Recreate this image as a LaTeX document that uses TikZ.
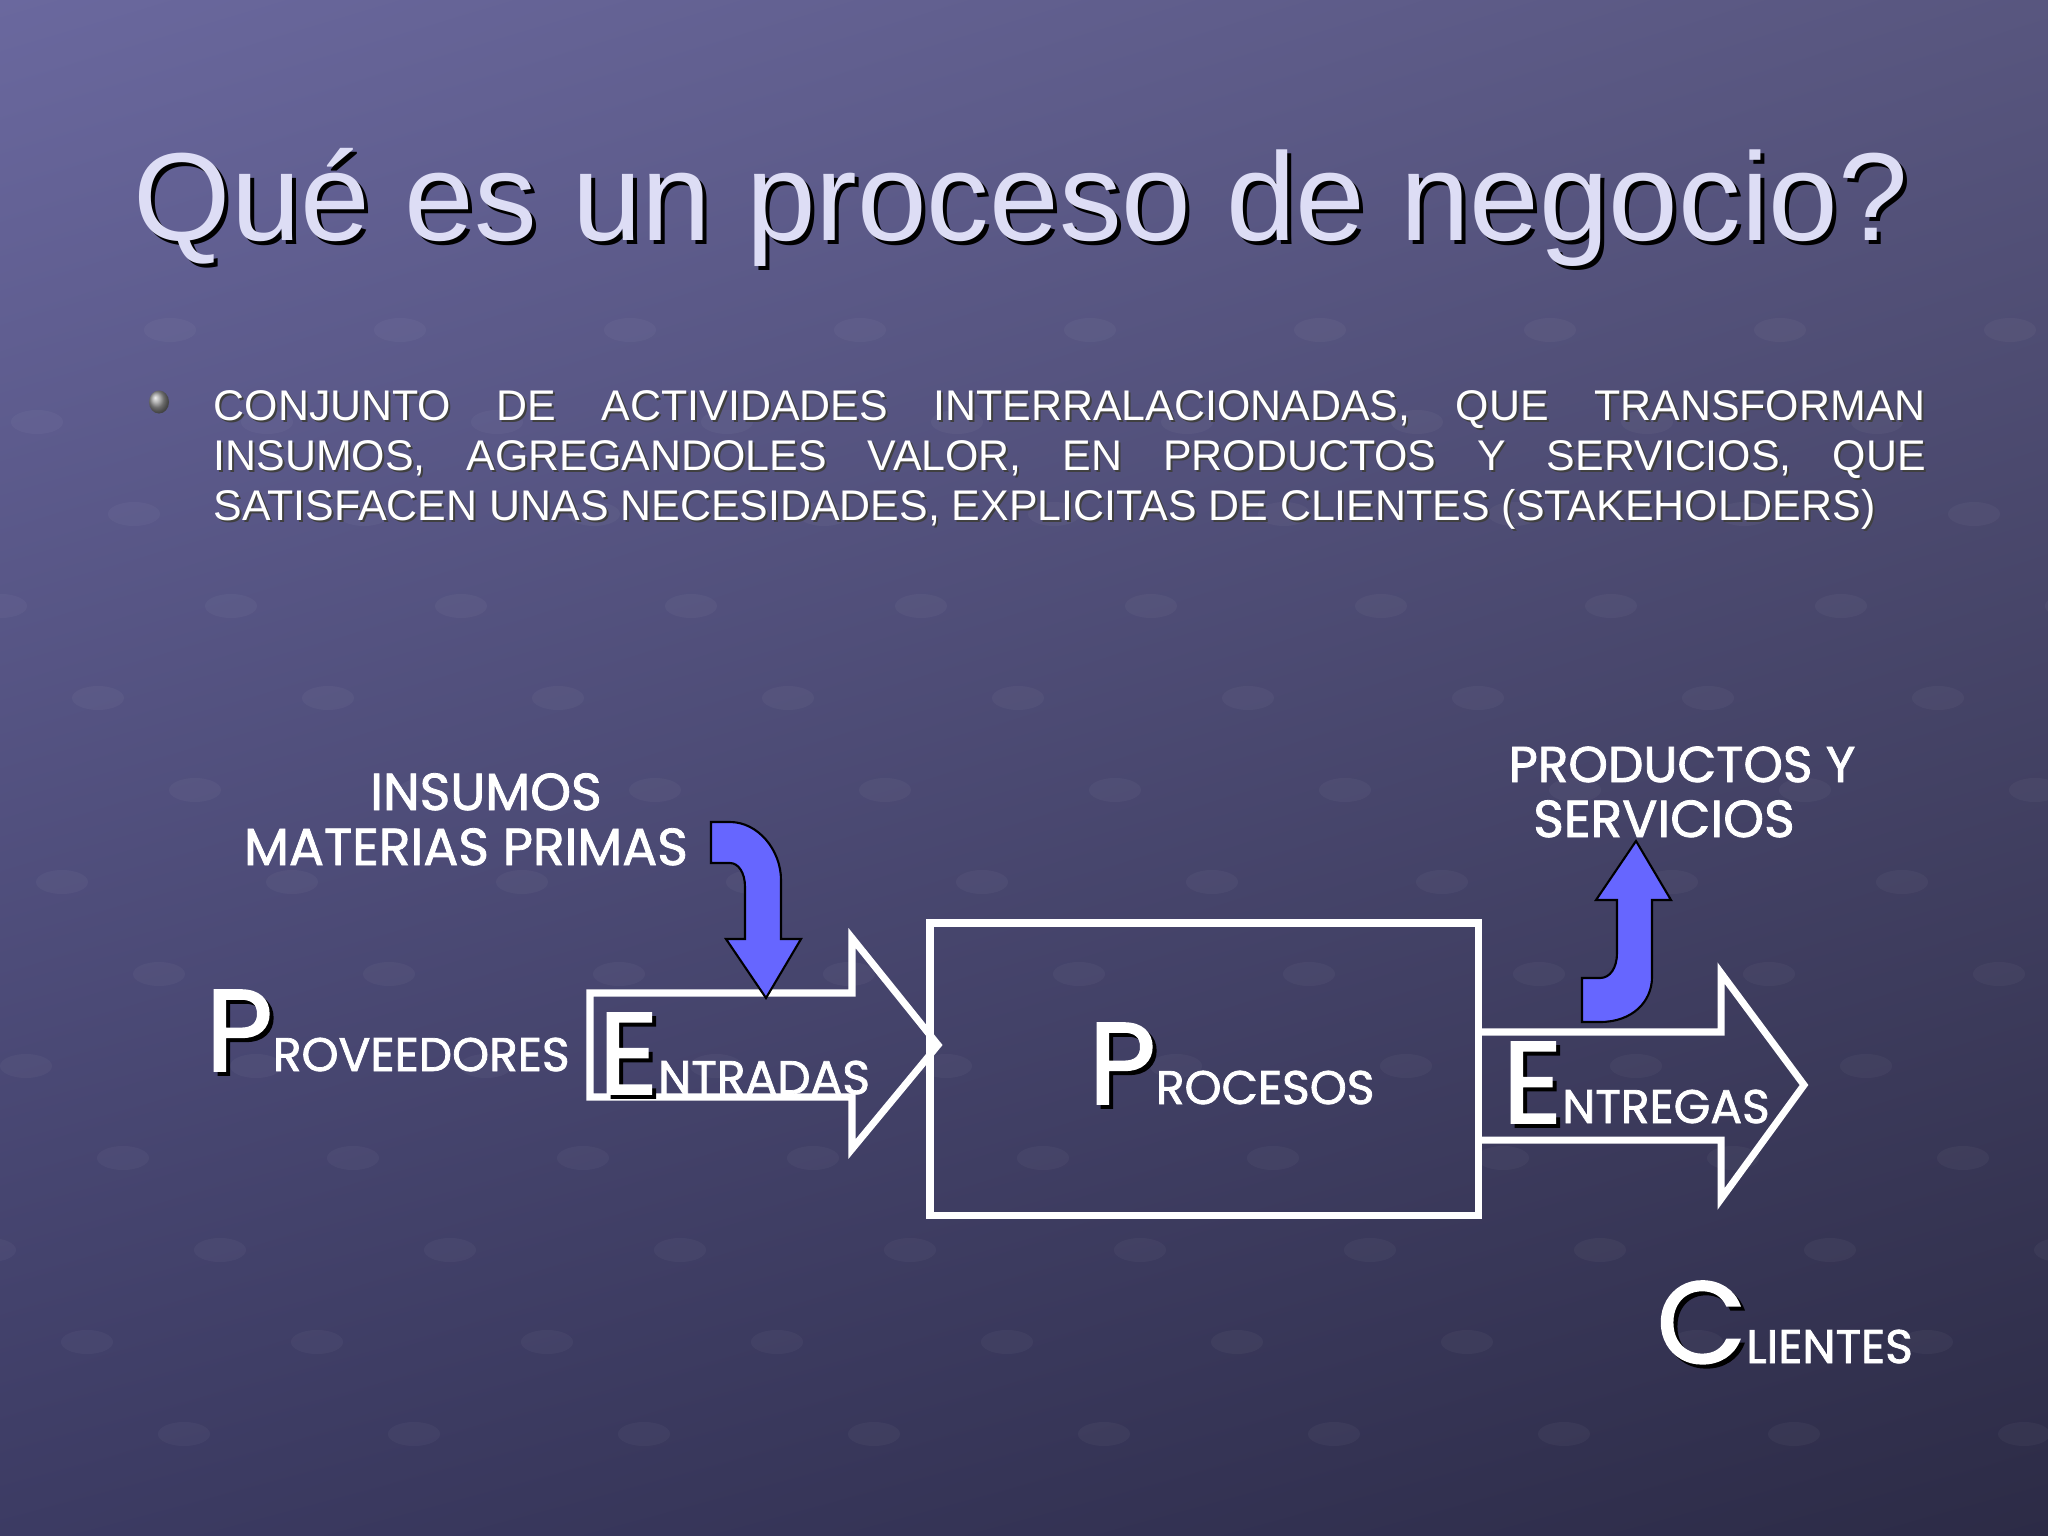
\documentclass[tikz,border=0pt]{standalone}
\usepackage{fontspec}
\setmainfont{Liberation Sans}
\newfontfamily\comicfont{Poppins}[FakeBold=1.6]
\usetikzlibrary{calc,shadings}
\definecolor{bgTL}{HTML}{6A689E}
\definecolor{bgTR}{HTML}{58567F}
\definecolor{bgBL}{HTML}{3C3B63}
\definecolor{bgBR}{HTML}{2C2B46}
\definecolor{titlefg}{HTML}{DDDDF5}
\definecolor{arrowblue}{HTML}{6666FF}
\tolerance=9999
\hyphenpenalty=10000
\newcommand\shadowed[2]{\rlap{\kern#1\raisebox{-#1}{\color{black}#2}}#2}
\newcommand\capword[2]{{\fontsize{33}{36}\selectfont\shadowed{0.04cm}{#1}}{\fontsize{13.4}{15}\selectfont#2}}
\newcommand\conjunto{CONJUNTO DE ACTIVIDADES INTERRALACIONADAS, QUE TRANSFORMAN\linebreak
  INSUMOS, AGREGANDOLES VALOR, EN PRODUCTOS Y SERVICIOS, QUE\linebreak
  SATISFACEN UNAS NECESIDADES, EXPLICITAS DE CLIENTES (STAKEHOLDERS)}
\tikzset{
  slidetitle/.style={anchor=base west, inner sep=0pt, text=titlefg,
                     font=\fontsize{35.6}{40}\selectfont},
  bodytxt/.style={anchor=base west, inner sep=0pt, text width=17.11cm, align=justify,
                  font=\fontsize{12.2}{14.3}\selectfont},
  comic/.style={inner sep=0pt, text=white, font=\comicfont\fontsize{14.8}{16}\selectfont},
  blockarrow/.style={draw=white, line width=2pt, line join=miter},
  bendarrow/.style={draw=black, fill=arrowblue, line width=0.6pt},
  dot/.style={fill=white, opacity=0.035}
}
\begin{document}
\begin{tikzpicture}[x=0.01cm, y=-0.01cm]
  \useasboundingbox (0,0) rectangle (2048,1536);
  % background
  \shade[upper left=bgTL, upper right=bgTR, lower left=bgBL, lower right=bgBR]
    (0,0) rectangle (2048,1536);
  \foreach \r in {0,...,12}
    \foreach \c in {0,...,9}
      \fill[dot] ({\c*230+mod(\r*97,230)-60},{330+\r*92}) ellipse [x radius=0.26cm, y radius=0.12cm];

  % title and definition
  \node[slidetitle] (title) at (133,240) {\shadowed{0.04cm}{Qué es un proceso de negocio?}};
  \shade[ball color=gray!80] (159,402) ellipse [x radius=0.1cm, y radius=0.115cm];
  \node[bodytxt, text=black!75] (defshadow) at (215,422) {\conjunto};
  \node[bodytxt, text=white] (definition) at (213,420) {\conjunto};

  % block arrows and process box
  \draw[blockarrow] (590,993) -- (852,993) -- (852,938) -- (938,1045)
                    -- (852,1149) -- (852,1097) -- (590,1097) -- cycle;
  \draw[blockarrow] (930,923) rectangle (1478,1215);
  \draw[blockarrow] (1478,1032) -- (1721,1032) -- (1721,973) -- (1804,1085)
                    -- (1721,1199) -- (1721,1140) -- (1478,1140);

  % bent arrows
  \draw[bendarrow] (711,822) -- (730,822) .. controls (758,822) and (781,850) .. (781,880)
                   -- (781,939) -- (801,939) -- (766,998) -- (726,939) -- (745,939)
                   -- (745,887) .. controls (745,872) and (738,863) .. (730,863)
                   -- (711,863) -- cycle;
  \draw[bendarrow] (1582,1022) -- (1600,1022) .. controls (1632,1022) and (1652,1002) .. (1652,977)
                   -- (1652,900) -- (1671,900) -- (1636,841) -- (1596,900) -- (1617,900)
                   -- (1617,953) .. controls (1617,968) and (1610,978) .. (1600,978)
                   -- (1582,978) -- cycle;

  % labels
  \node[comic, anchor=base] (insumos) at (486,810) {INSUMOS};
  \node[comic, anchor=base] (materias) at (466,865) {MATERIAS PRIMAS};
  \node[comic, anchor=base, font=\comicfont\fontsize{14.3}{16}\selectfont] (productos) at (1682,782) {PRODUCTOS Y};
  \node[comic, anchor=base] (servicios) at (1664,837) {SERVICIOS};

  \node[comic, anchor=base west] (proveedores) at (205,1071) {\capword{P}{ROVEEDORES}};
  \node[comic, anchor=base west] (entradas) at (598,1094) {\capword{E}{NTRADAS}};
  \node[comic, anchor=base west] (procesos) at (1088,1104) {\capword{P}{ROCESOS}};
  \node[comic, anchor=base west] (entregas) at (1502,1123) {\capword{E}{NTREGAS}};
  \node[comic, anchor=base west] (clientes) at (1656,1363) {\capword{C}{LIENTES}};
\end{tikzpicture}
\end{document}
